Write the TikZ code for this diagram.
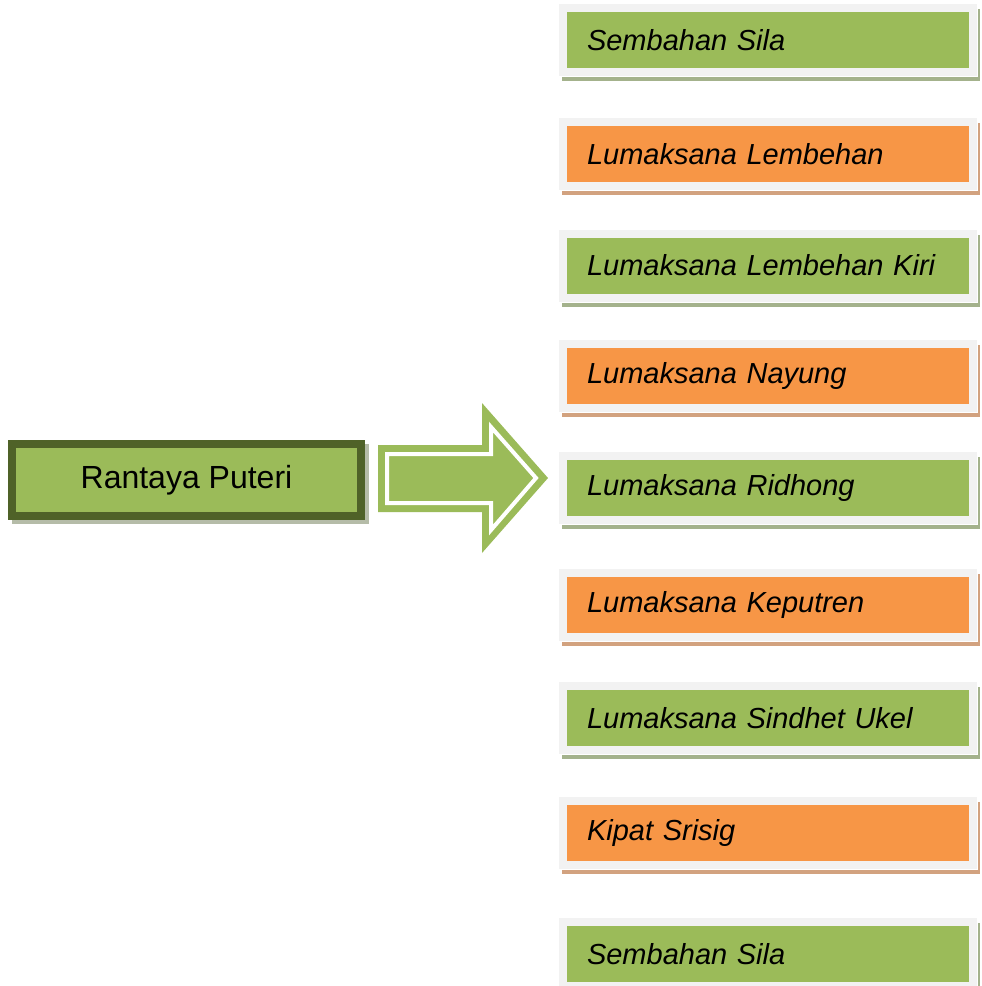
\documentclass[tikz,border=0pt]{standalone}
\usepackage{fontspec}
\setmainfont{Liberation Sans}
\usetikzlibrary{backgrounds}

\definecolor{leafgreen}{HTML}{9BBB59}
\definecolor{darkolive}{HTML}{4F6228}
\definecolor{peach}{HTML}{F79646}
\definecolor{framegray}{HTML}{F2F2F2}
\definecolor{greenshade}{HTML}{A4B28C}
\definecolor{orangeshade}{HTML}{D2A27F}
\definecolor{boxshade}{HTML}{B5BCA8}

\begin{document}
\begin{tikzpicture}[x=1pt, y=-1pt,
  movebox/.style={draw=framegray, line width=8pt, minimum height=64pt,
    text width=362pt, inner xsep=24pt, inner ysep=0pt, align=left,
    font=\fontsize{29}{34}\selectfont\itshape},
  mainbox/.style={draw=darkolive, fill=leafgreen, line width=8pt,
    minimum width=349pt, minimum height=72pt, inner sep=0pt,
    font=\fontsize{32}{38}\selectfont}]
  \useasboundingbox (0,0) rectangle (982,986);

  % Main figure
  \node[mainbox] (rantaya) at (186.5,480) {\raisebox{4pt}{Rantaya Puteri}};
  \begin{scope}[on background layer]
    \fill[boxshade] ([shift={(4,4)}]rantaya.north west) rectangle ([shift={(4,4)}]rantaya.south east);
  \end{scope}

  % Block arrow
  \fill[leafgreen] (378,445) -- (482,445) -- (482,403) -- (548,478) -- (482,553) -- (482,512) -- (378,512) -- cycle;
  \draw[white, line width=4pt] (387,454) -- (491,454) -- (491,427) -- (536,478) -- (491,530) -- (491,503) -- (387,503) -- cycle;

  % Steps of the dance
  \foreach \i/\y/\col/\shade/\txt in {
    1/40/leafgreen/greenshade/Sembahan Sila,
    2/154/peach/orangeshade/Lumaksana Lembehan,
    3/265.5/leafgreen/greenshade/Lumaksana Lembehan Kiri,
    4/376/peach/orangeshade/Lumaksana Nayung,
    5/488/leafgreen/greenshade/Lumaksana Ridhong,
    6/604.5/peach/orangeshade/Lumaksana Keputren,
    7/718/leafgreen/greenshade/Lumaksana Sindhet Ukel,
    8/832.5/peach/orangeshade/Kipat Srisig,
    9/954/leafgreen/greenshade/Sembahan Sila
  } {
    \node[movebox, fill=\col] (move\i) at (768,\y) {\txt};
    \begin{scope}[on background layer]
      \fill[\shade] ([shift={(3,5)}]move\i.north west) rectangle ([shift={(3,5)}]move\i.south east);
      \fill[white] ([shift={(-1,-1)}]move\i.north west) rectangle ([shift={(1,1)}]move\i.south east);
    \end{scope}
  }
\end{tikzpicture}
\end{document}
